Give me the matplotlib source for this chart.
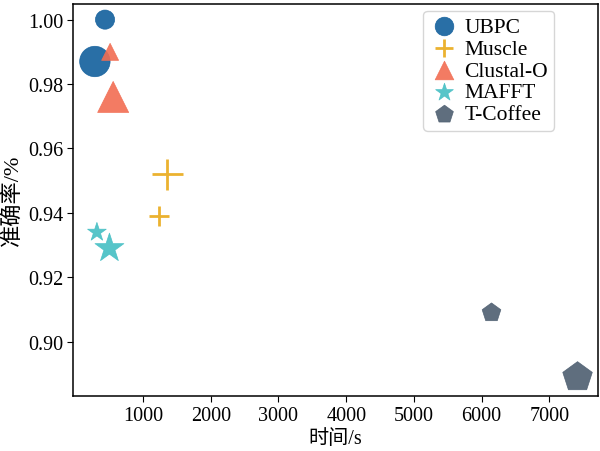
import matplotlib
matplotlib.use("Agg")
import matplotlib.pyplot as plt

plt.rcParams['font.family'] = ['Liberation Serif', 'Noto Sans CJK SC']

# data
methods = ['UBPC', 'Muscle', 'Clustal-O', 'MAFFT', 'T-Coffee']
times = {
    'UBPC': [440, 290],
    'Muscle': [1240, 1360],
    'Clustal-O': [515, 560],
    'MAFFT': [320, 505],
    'T-Coffee': [6145, 7415],
}
acc = {
    'UBPC': [1.000, 0.987],
    'Muscle': [0.939, 0.952],
    'Clustal-O': [0.990, 0.976],
    'MAFFT': [0.934, 0.929],
    'T-Coffee': [0.909, 0.889],
}
sizes = {
    'UBPC': [190, 480],
    'Muscle': [200, 500],
    'Clustal-O': [150, 500],
    'MAFFT': [200, 480],
    'T-Coffee': [200, 500],
}
markers = {'UBPC': 'o', 'Muscle': '+', 'Clustal-O': '^', 'MAFFT': '*', 'T-Coffee': 'p'}
colors = {'UBPC': '#125f9c', 'Muscle': '#ebb230', 'Clustal-O': '#f26d52',
          'MAFFT': '#45bfc4', 'T-Coffee': '#4d5e70'}

fig, ax = plt.subplots(figsize=(6, 4.52), dpi=100)
for m in methods:
    if m == 'Muscle':
        ax.scatter(times[m], acc[m], s=sizes[m], marker=markers[m], color=colors[m],
                   linewidths=2, label=m)
    else:
        ax.scatter(times[m], acc[m], s=sizes[m], marker=markers[m], color=colors[m],
                   alpha=0.9, linewidths=0.5, edgecolors=colors[m], label=m)

ax.set_xticks([1000, 2000, 3000, 4000, 5000, 6000, 7000])
ax.set_yticks([0.90, 0.92, 0.94, 0.96, 0.98, 1.00])
ax.set_yticklabels(['0.90', '0.92', '0.94', '0.96', '0.98', '1.00'])
ax.set_xlim(-30, 7720)
ax.set_ylim(0.8832, 1.005)
ax.tick_params(labelsize=14.5, length=4, pad=3)
for sp in ax.spines.values():
    sp.set_linewidth(1.1)
ax.set_xlabel('时间/s', fontsize=14.5)
ax.set_ylabel('准确率/%', fontsize=16)
ax.xaxis.set_label_coords(0.5, -0.085)
ax.yaxis.set_label_coords(-0.095, 0.5)

leg = ax.legend(loc='upper left', fontsize=15.5, handletextpad=0.3,
                borderpad=0.3, labelspacing=0.08, handlelength=1.3,
                borderaxespad=0, bbox_to_anchor=(0.667, 0.982))
for h in leg.legend_handles:
    h.set_sizes([180])

plt.subplots_adjust(left=0.122, right=0.997, top=0.99, bottom=0.122)
plt.savefig('out.png', dpi=100)
